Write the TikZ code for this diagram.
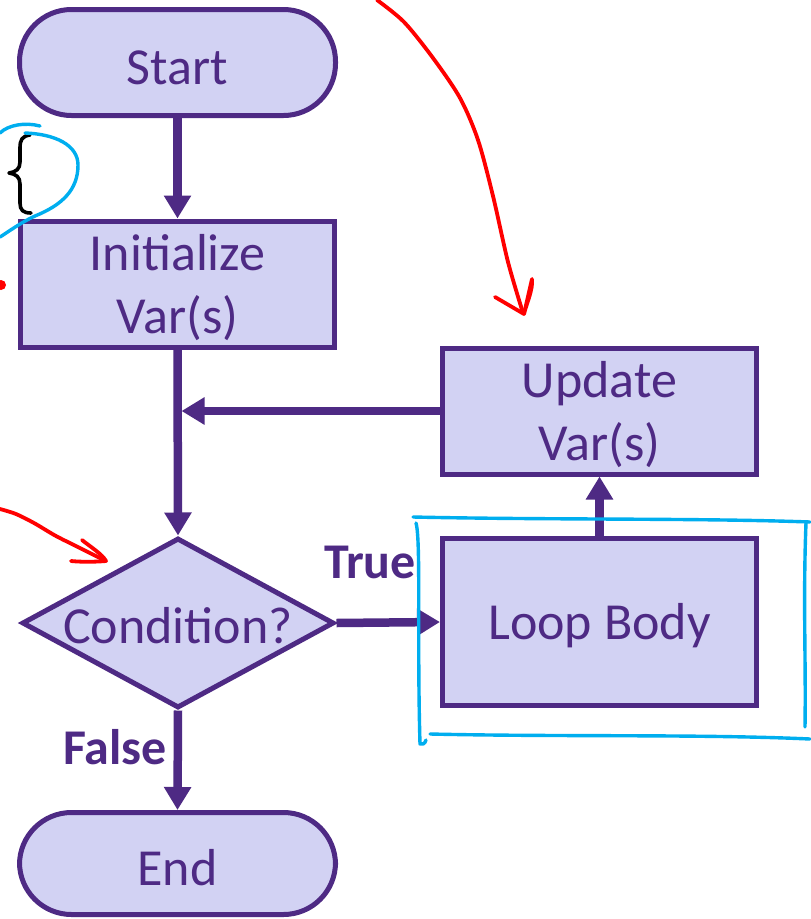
\documentclass[tikz,border=0pt]{standalone}
\usepackage{fontspec}
\setmainfont{Carlito}
\usetikzlibrary{shapes.geometric,arrows.meta}

\definecolor{flowline}{RGB}{78,42,132}
\definecolor{flowfill}{RGB}{210,210,243}
\definecolor{inkblue}{RGB}{0,174,239}
\definecolor{inkred}{RGB}{255,0,0}

% two-line box text, set a little below the box centre
\newcommand\twolines[2]{\raisebox{-5pt}[\height][\depth]{%
  \begin{tabular}{@{}c@{}}#1\\#2\end{tabular}}}

\tikzset{
  box/.style={draw=flowline, fill=flowfill, line width=5pt, inner sep=0pt,
    text=flowline, align=center, font=\fontsize{52}{63}\selectfont},
  onebox/.style={box, execute at begin node={\rule{0pt}{44pt}}},
  terminal/.style={onebox, rounded corners=52pt},
  decision/.style={draw=flowline, fill=flowfill, line width=5pt, diamond,
    inner sep=0pt, minimum width=312pt, minimum height=170pt},
  plain/.style={text=flowline, font=\fontsize{52}{63}\selectfont, inner sep=0pt},
  branch/.style={text=flowline, font=\fontsize{50}{60}\selectfont\bfseries, inner sep=0pt},
  flow/.style={draw=flowline, line width=8.5pt,
    -{Triangle[length=23pt,width=26pt]}},
  redink/.style={draw=inkred, line width=3.8pt, line cap=round, line join=round},
  blueink/.style={draw=inkblue, line width=3.4pt, line cap=round, line join=round},
  blackink/.style={draw=black, line width=3.6pt, line cap=round, line join=round},
}

\begin{document}
\begin{tikzpicture}[x=1pt, y=-1pt]
\clip (0,0) rectangle (811,919);
\fill[white] (0,0) rectangle (811,919);

% flowchart boxes
\node[terminal, minimum width=316pt, minimum height=106pt] (start) at (177.5,62.5) {Start};
\node[box, minimum width=314pt, minimum height=126pt] (init) at (177.5,284) {\twolines{Initialize}{Var(s)}};
\node[box, minimum width=314pt, minimum height=124pt] (update) at (599.5,411) {\twolines{Update}{Var(s)}};
\node[decision] (cond) at (178,623) {};
\node[plain] (condtext) at ([yshift=-3pt]cond.center) {Condition?};
\node[onebox, minimum width=314pt, minimum height=167pt] (body) at (599.5,622) {Loop Body};
\node[terminal, minimum width=316pt, minimum height=102pt] (end) at (177.5,863.5) {End};

% branch labels
\node[branch] (truelbl) at (370,562) {True};
\node[branch] (falselbl) at (115,747) {False};

% connectors
\draw[flow] (start.south) -- (init.north);
\draw[flow] (init.south) -- (cond.north);
\draw[flow, shorten >=4pt] (update.west) -- (update.west -| init.south);
\draw[flow] (cond.east) -- (body.west);
\draw[flow] (body.north) -- (update.south);
\draw[flow] (cond.south) -- (end.north);

% handwritten notes: brace and circling stroke
\draw[blackink] (30,135) .. controls (22,136) and (20,140) .. (20,148)
  -- (20,162) .. controls (20,169) and (16,172) .. (9,173)
  .. controls (16,174) and (20,177) .. (20,184)
  -- (20,203) .. controls (20,210) and (23,213) .. (31,213);
\draw[blueink] (0,133) .. controls (8,125) and (25,122) .. (40,126);
\draw[blueink] (25,133) .. controls (55,134) and (78,145) .. (78,165)
  .. controls (78,190) and (62,205) .. (35,216)
  .. controls (20,223) and (8,232) .. (0,237);
\fill[inkred] (1,285) circle (5pt);

% red arrow toward the update box
\draw[redink] plot[smooth] coordinates {(377,0) (404,22) (433,58) (460,98) (478,140) (493,196) (508,262) (523,313)};
\draw[redink] (495,297) -- (524,314) -- (532,279) .. controls (533,290) and (527,302) .. (524,314);

% red arrow toward the condition
\draw[redink] plot[smooth] coordinates {(0,509) (16,514) (34,523) (56,536) (80,548) (106,561)};
\draw[redink] (82,540) .. controls (92,548) and (102,554) .. (106,561) .. controls (95,562) and (80,562) .. (71,561);

% blue frame around the loop body
\draw[blueink] (413,517) .. controls (550,520) and (700,518) .. (810,522);
\draw[blueink] (806,523) .. controls (803,600) and (806,660) .. (805,727);
\draw[blueink] (430,734) .. controls (560,737) and (700,734) .. (810,739);
\draw[blueink] (416,523) .. controls (421,540) and (417,640) .. (420,744)
  .. controls (422,745) and (425,744) .. (426,740);
\end{tikzpicture}
\end{document}
